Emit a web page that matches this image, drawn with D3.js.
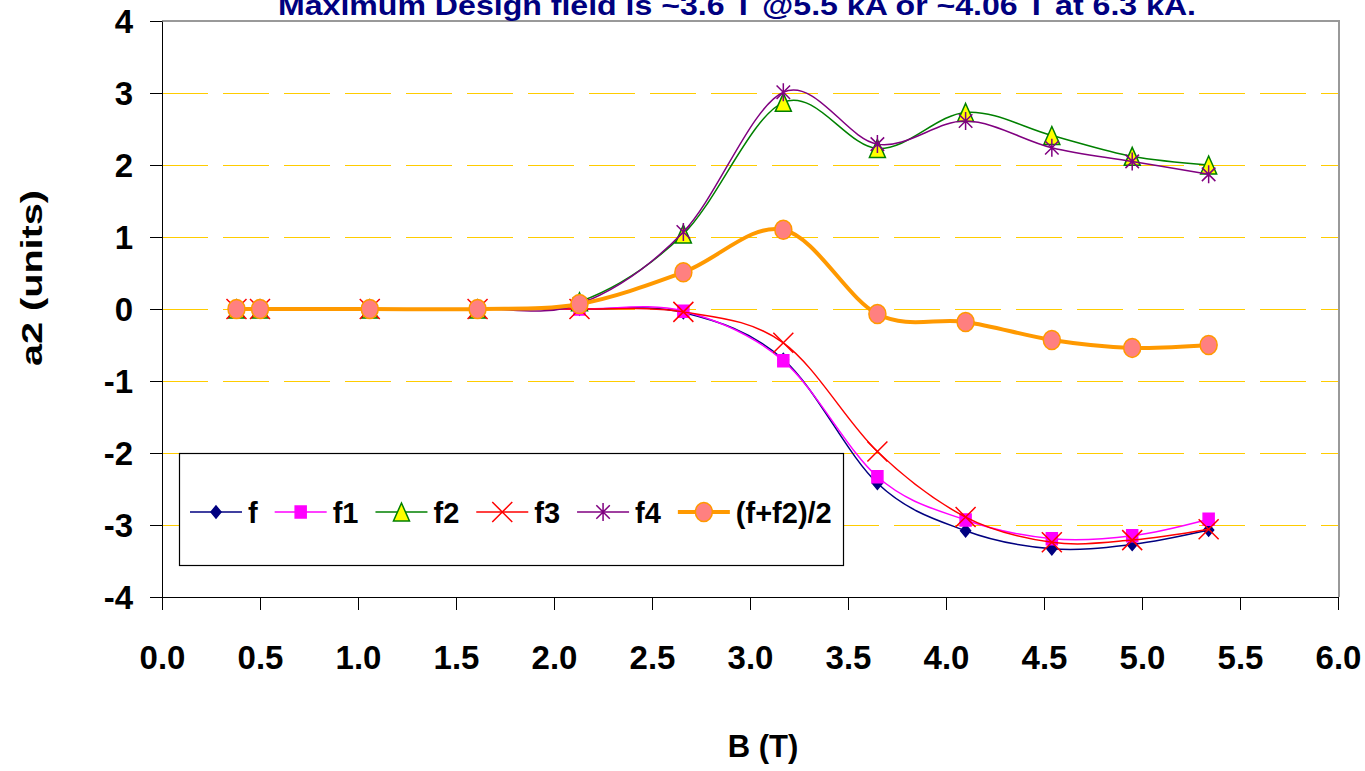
<!DOCTYPE html>
<html>
<head>
<meta charset="utf-8">
<script src="https://cdn.jsdelivr.net/npm/d3@7"></script>
<style>
  body { margin: 0; background: #fff; }
  #graph { width: 1365px; height: 771px; }
  text { font-family: "Liberation Sans", Arial, sans-serif; font-weight: bold; }
</style>
</head>
<body>
<div id="graph"></div>
<script>
// Field values B (T) for every measurement
const bField = [0.38, 0.50, 1.06, 1.61, 2.13, 2.66, 3.17, 3.65, 4.10, 4.54, 4.95, 5.34]
// a2 values of every series
const fVals   = [0, 0, 0, 0, 0.00, -0.05, -0.70, -2.42, -3.08, -3.33, -3.27, -3.07]
const f1Vals  = [0, 0, 0, 0, 0.00, -0.03, -0.72, -2.33, -2.93, -3.19, -3.15, -2.92]
const f2Vals  = [0, 0, 0, 0, 0.10, 1.04, 2.87, 2.23, 2.73, 2.41, 2.12, 2.00]
const f3Vals  = [0, 0, 0, 0, 0.00, -0.04, -0.47, -1.98, -2.89, -3.24, -3.21, -3.06]
const f4Vals  = [0, 0, 0, 0, 0.07, 1.07, 3.01, 2.29, 2.61, 2.24, 2.05, 1.87]
const avgVals = [0, 0, 0, 0, 0.07, 0.51, 1.10, -0.07, -0.18, -0.43, -0.54, -0.50]
const seriesNames = ['f', 'f1', 'f2', 'f3', 'f4', '(f+f2)/2']
// Axis ticks
const xTicks = [0, 0.5, 1, 1.5, 2, 2.5, 3, 3.5, 4, 4.5, 5, 5.5, 6]
const yTicks = [-4, -3, -2, -1, 0, 1, 2, 3, 4]
const gridValues = [-3, -2, -1, 0, 1, 2, 3]
const title = 'Maximum Design field is ~3.6 T @5.5 kA or ~4.06 T at 6.3 kA.'
const xLabel = 'B (T)'
const yLabel = 'a2 (units)'

// Marker shapes
const xMark = s => `M${-s},${-s}L${s},${s}M${-s},${s}L${s},${-s}`
const starMark = s => `M${-s*0.75},${-s*0.75}L${s*0.75},${s*0.75}M${-s*0.75},${s*0.75}L${s*0.75},${-s*0.75}M0,${-s}L0,${s}`
const diamondMark = () => 'M0,-6L5,0L0,6L-5,0Z'
const squareMark = () => 'M-5.5,-6L5.5,-6L5.5,6L-5.5,6Z'
const triMark = () => 'M0,-9L8,9L-8,9Z'

const series = [
  { name: seriesNames[0], values: fVals,   color: '#000080', width: 1.5, marker: diamondMark(), fill: '#000080', mstroke: '#000080' },
  { name: seriesNames[1], values: f1Vals,  color: '#FF00FF', width: 1.5, marker: squareMark(),  fill: '#FF00FF', mstroke: '#FF00FF' },
  { name: seriesNames[2], values: f2Vals,  color: '#008000', width: 1.5, marker: triMark(),     fill: '#FFFF00', mstroke: '#008000' },
  { name: seriesNames[3], values: f3Vals,  color: '#FF0000', width: 1.5, marker: xMark(10),     fill: 'none',    mstroke: '#FF0000' },
  { name: seriesNames[4], values: f4Vals,  color: '#800080', width: 1.5, marker: starMark(9),   fill: 'none',    mstroke: '#800080' },
  { name: seriesNames[5], values: avgVals, color: '#FF9900', width: 4,   marker: null,          fill: '#FF8080', mstroke: '#FF9900' }
]

const width = 1365
const height = 771
const plot = { left: 162, right: 1339, top: 21, bottom: 597 }

const svg = d3.select('#graph')
  .append('svg')
  .attr('width', width)
  .attr('height', height)

const xScale = d3.scaleLinear().domain([0, 6]).range([plot.left, plot.right - 1])
const yScale = d3.scaleLinear().domain([-4, 4]).range([plot.bottom, plot.top])

// Dashed grid lines (kept on whole pixels so they stay crisp)
svg.append('g')
  .selectAll('line')
  .data(gridValues)
  .enter()
  .append('line')
  .attr('x1', plot.left)
  .attr('x2', plot.right)
  .attr('y1', d => Math.round(yScale(d)) + 0.5)
  .attr('y2', d => Math.round(yScale(d)) + 0.5)
  .attr('stroke', '#FFCC00')
  .attr('stroke-width', 1)
  .attr('stroke-dasharray', '46,15')

// Plot area border on top and right
svg.append('path')
  .attr('d', `M${plot.left},${plot.top}L${plot.right},${plot.top}L${plot.right},${plot.bottom}`)
  .attr('fill', 'none')
  .attr('stroke', '#999')
  .attr('stroke-width', 2)

// Axes
const xAxis = d3.axisBottom(xScale).tickValues(xTicks).tickSize(13).tickSizeOuter(0)
  .tickPadding(36).tickFormat(d3.format('.1f'))
const yAxis = d3.axisLeft(yScale).tickValues(yTicks).tickSize(12).tickSizeOuter(0)
  .tickPadding(17).tickFormat(d => String(d))

const gx = svg.append('g')
  .attr('transform', `translate(0,${plot.bottom})`)
  .call(xAxis)
const gy = svg.append('g')
  .attr('transform', `translate(${plot.left},0)`)
  .call(yAxis)

gx.select('.domain').attr('stroke', '#000').attr('d', `M${plot.left - 12},0.5H${plot.right}`)
gy.select('.domain').attr('stroke', '#000')
svg.selectAll('.tick line').attr('stroke', '#000')
svg.selectAll('.tick text')
  .attr('fill', '#000')
  .style('font-size', '33px')
  .style('font-family', '"Liberation Sans", Arial, sans-serif')
  .style('font-weight', 'bold')
gy.selectAll('.tick text').attr('dy', '0.36em')

// Smoothed lines like the original spreadsheet chart
const line = d3.line()
  .x((d, i) => xScale(bField[i]))
  .y(d => yScale(d))
  .curve(d3.curveCatmullRom.alpha(0))

series.forEach(s => {
  svg.append('path')
    .datum(s.values)
    .attr('fill', 'none')
    .attr('stroke', s.color)
    .attr('stroke-width', s.width)
    .attr('stroke-linejoin', 'round')
    .attr('d', line)

  const g = svg.append('g')
  if (s.marker) {
    g.selectAll('path')
      .data(s.values)
      .enter()
      .append('path')
      .attr('transform', (d, i) => `translate(${xScale(bField[i])},${yScale(d)})`)
      .attr('d', s.marker)
      .attr('fill', s.fill)
      .attr('stroke', s.mstroke)
      .attr('stroke-width', 1.5)
  } else {
    g.selectAll('ellipse')
      .data(s.values)
      .enter()
      .append('ellipse')
      .attr('cx', (d, i) => xScale(bField[i]))
      .attr('cy', d => yScale(d))
      .attr('rx', 8.5)
      .attr('ry', 9.5)
      .attr('fill', s.fill)
      .attr('stroke', s.mstroke)
      .attr('stroke-width', 1.5)
  }
})

// Legend
const legend = svg.append('g')
legend.append('rect')
  .attr('x', 179.5)
  .attr('y', 453.5)
  .attr('width', 664)
  .attr('height', 112)
  .attr('fill', '#fff')
  .attr('stroke', '#000')
  .attr('stroke-width', 1.2)

let lx = 190
const ly = 512
series.forEach(s => {
  legend.append('line')
    .attr('x1', lx).attr('x2', lx + 52)
    .attr('y1', ly).attr('y2', ly)
    .attr('stroke', s.color)
    .attr('stroke-width', s.width)
  if (s.marker) {
    legend.append('path')
      .attr('transform', `translate(${lx + 26},${ly})`)
      .attr('d', s.marker)
      .attr('fill', s.fill)
      .attr('stroke', s.mstroke)
      .attr('stroke-width', 1.5)
  } else {
    legend.append('ellipse')
      .attr('cx', lx + 26).attr('cy', ly)
      .attr('rx', 8.5).attr('ry', 9.5)
      .attr('fill', s.fill)
      .attr('stroke', s.mstroke)
      .attr('stroke-width', 1.5)
  }
  const t = legend.append('text')
    .attr('x', lx + 58)
    .attr('y', ly + 11)
    .style('font-size', '29px')
    .attr('fill', '#000')
    .text(s.name)
  lx += 58 + t.node().getComputedTextLength() + 17
})

// Title, cut at the top of the picture as in the original
svg.append('text')
  .attr('x', 737)
  .attr('y', 15)
  .attr('text-anchor', 'middle')
  .attr('fill', '#000080')
  .style('font-size', '28px')
  .attr('textLength', 918)
  .attr('lengthAdjust', 'spacingAndGlyphs')
  .text(title)

// Axis labels
svg.append('text')
  .attr('x', 763)
  .attr('y', 757)
  .attr('text-anchor', 'middle')
  .attr('fill', '#000')
  .style('font-size', '31px')
  .text(xLabel)

svg.append('text')
  .attr('transform', 'translate(42,278) rotate(-90)')
  .attr('text-anchor', 'middle')
  .attr('fill', '#000')
  .style('font-size', '30px')
  .attr('textLength', 176)
  .attr('lengthAdjust', 'spacingAndGlyphs')
  .text(yLabel)
</script>
</body>
</html>
